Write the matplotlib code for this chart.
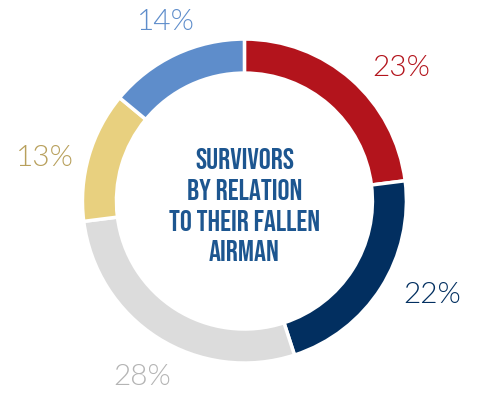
import matplotlib

matplotlib.use("Agg")
import matplotlib.pyplot as plt

# slices, clockwise from 12 o'clock
SHARES = [23, 22, 28, 13, 14]
COLORS = ["#b3141c", "#022f60", "#dcdcdc", "#e8d07f", "#5e8dcb"]
LABEL_COLORS = ["#b3141c", "#022f60", "#b4b4b4", "#b8a05c", "#5e8dcb"]
LABEL_POS = [(0.97, 0.82), (1.157, -0.58), (-0.633, -1.086), (-1.231, 0.265), (-0.485, 1.105)]
CENTER_LINES = ["SURVIVORS", "BY RELATION", "TO THEIR FALLEN", "AIRMAN"]


def main():
    fig = plt.figure(figsize=(4.79, 4.11), dpi=100)
    ax = fig.add_axes([0, 0, 1, 1])

    ax.pie(
        SHARES,
        colors=COLORS,
        startangle=90,
        counterclock=False,
        radius=1.0,
        wedgeprops=dict(width=0.21, edgecolor="white", linewidth=2.5),
    )

    for share, pos, col in zip(SHARES, LABEL_POS, LABEL_COLORS):
        ax.text(pos[0], pos[1], f"{share}%", color=col, fontsize=21.5,
                fontfamily=["Lato", "DejaVu Sans"], fontweight=300,
                ha="center", va="center")

    ax.text(0, -0.022, "\n".join(CENTER_LINES), color="#1d5690", fontsize=21.5,
            fontfamily=["Bebas Neue", "DejaVu Sans"],
            ha="center", va="center", linespacing=1.47)

    ax.set_xlim(-1.509, 1.448)
    ax.set_ylim(-1.296, 1.241)
    ax.axis("off")

    fig.savefig("out.png", dpi=100, facecolor="white")
    plt.close(fig)


if __name__ == "__main__":
    main()
